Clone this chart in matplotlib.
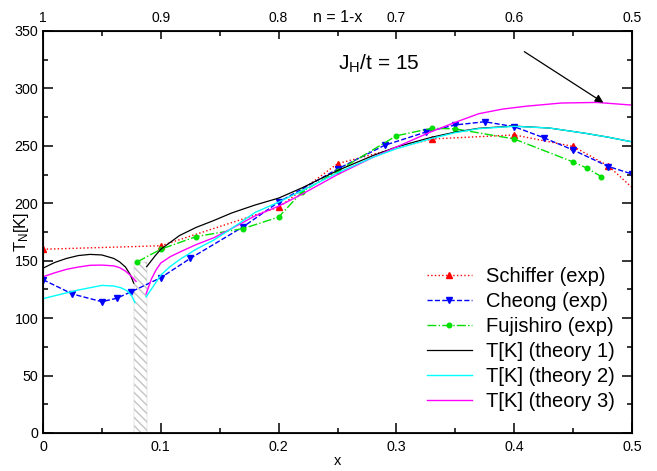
#
#  plot.py
#
#  Neel temperature T_N vs doping x: experiment and theory
#
################################################################

import numpy as np
import matplotlib
matplotlib.use('Agg')
import matplotlib.pyplot as plt
from matplotlib.patches import Rectangle
from matplotlib.ticker import MultipleLocator, FuncFormatter

plt.rcParams['font.family'] = ['Liberation Sans', 'DejaVu Sans']
plt.rcParams['mathtext.fontset'] = 'custom'
plt.rcParams['mathtext.rm'] = 'Liberation Sans'
plt.rcParams['mathtext.it'] = 'Liberation Sans:italic'
plt.rcParams['hatch.linewidth'] = 1.0

#  experimental data
schiffer_x = [0.0, 0.1, 0.2, 0.25, 0.33, 0.4, 0.45, 0.48, 0.52]
schiffer_y = [160, 163, 196.5, 234.5, 256, 259.5, 249.5, 232.5, 195]

cheong_x = [0.0, 0.025, 0.05, 0.0625, 0.075, 0.1, 0.125, 0.17, 0.2, 0.25,
            0.29, 0.325, 0.35, 0.375, 0.4, 0.425, 0.45, 0.48, 0.5]
cheong_y = [133.5, 121, 114.3, 117.3, 123, 135.2, 152, 179.6, 201, 229.8,
            250.5, 262, 268.2, 271, 266.7, 257.1, 246.4, 232, 225.5]

fuji_x = [0.08, 0.1, 0.13, 0.17, 0.2, 0.22, 0.25, 0.3, 0.33, 0.35, 0.4,
          0.45, 0.462, 0.474]
fuji_y = [149, 160, 171, 178, 188, 210, 228, 258.8, 265.3, 264.8, 256,
          236, 230.5, 223.2]

#  theory, low doping branch
th1a_x = [0.0, 0.01, 0.02, 0.03, 0.04, 0.05, 0.06, 0.065, 0.07, 0.074, 0.077]
th1a_y = [143.5, 148.5, 152, 154.5, 155.5, 155, 152, 149, 144.5, 138, 130.5]

th2a_x = [0.0, 0.01, 0.02, 0.03, 0.04, 0.05, 0.06, 0.066, 0.071, 0.075, 0.078]
th2a_y = [117, 119.5, 122, 124.5, 126.5, 128.5, 128, 126.5, 124, 120, 113.5]

th3a_x = [0.0, 0.01, 0.02, 0.03, 0.04, 0.05, 0.06, 0.065, 0.07, 0.075, 0.079]
th3a_y = [136, 139.5, 142.5, 144.5, 146, 146.2, 145.5, 144, 141, 136.5, 132]

#  theory, high doping branch
th1b_x = [0.088, 0.095, 0.1, 0.108, 0.116, 0.13, 0.145, 0.16, 0.18, 0.2,
          0.22, 0.25, 0.28, 0.3, 0.33, 0.35, 0.37, 0.4, 0.43, 0.46, 0.48, 0.5]
th1b_y = [144.8, 154, 160, 166, 172, 179, 185, 191.5, 198.5, 204.5,
          213.5, 228.5, 241.5, 249, 257.5, 262, 265.3, 267.2, 265.5, 261,
          257.5, 253.5]

th2b_x = [0.0875, 0.0935, 0.1, 0.108, 0.116, 0.13, 0.145, 0.16, 0.18, 0.2,
          0.22, 0.25, 0.28, 0.3, 0.33, 0.35, 0.37, 0.4, 0.43, 0.46, 0.48, 0.5]
th2b_y = [118.5, 127.5, 137.5, 145, 151, 160, 168, 178, 192, 201,
          211, 226.5, 240, 247.5, 256.5, 261.5, 265, 267, 265.5, 261,
          257.5, 253.5]

th3b_x = [0.0875, 0.092, 0.096, 0.1, 0.108, 0.116, 0.13, 0.145, 0.16, 0.18,
          0.2, 0.22, 0.25, 0.28, 0.3, 0.33, 0.35, 0.37, 0.39, 0.41, 0.44,
          0.47, 0.5]
th3b_y = [121, 134, 142, 148, 153.5, 157.5, 164, 170, 178, 189,
          197.5, 208, 225, 240, 249, 262.5, 270.5, 278, 282, 284.5, 287.3,
          287.8, 285.5]

#  top axis, n = 1 - x
top_ticks = [0.0, 0.1, 0.2, 0.3, 0.4, 0.5]
top_labels = ['1', '0.9', '0.8', '0.7', '0.6', '0.5']

fig = plt.figure(figsize=(6.57, 4.71), dpi=100)
ax = fig.add_axes([43/657, 38/471, 589/657, 402/471])

#  forbidden region
ax.add_patch(Rectangle((0.0775, 0), 0.011, 149, fill=False, hatch='\\\\\\\\',
                       edgecolor='#c4c4c4', linewidth=0.3, zorder=1))

ax.plot(schiffer_x, schiffer_y, ':', color='red', marker='^', ms=4,
        lw=1.0, label='Schiffer (exp)')
ax.plot(cheong_x, cheong_y, '--', color='blue', marker='v', ms=4,
        lw=1.0, label='Cheong (exp)')
ax.plot(fuji_x, fuji_y, '-.', color='#00e000', marker='o', ms=3.3,
        lw=1.0, label='Fujishiro (exp)')

ax.plot(th1a_x, th1a_y, '-', color='black', lw=0.9, label='T[K] (theory 1)')
ax.plot(th2a_x, th2a_y, '-', color='cyan', lw=1.0, label='T[K] (theory 2)')
ax.plot(th3a_x, th3a_y, '-', color='magenta', lw=1.0, label='T[K] (theory 3)')
ax.plot(th1b_x, th1b_y, '-', color='black', lw=0.9)
ax.plot(th3b_x, th3b_y, '-', color='magenta', lw=1.0)
ax.plot(th2b_x, th2b_y, '-', color='cyan', lw=1.0)

ax.set_xlim(0, 0.5)
ax.set_ylim(0, 350)
ax.xaxis.set_major_locator(MultipleLocator(0.1))
ax.xaxis.set_minor_locator(MultipleLocator(0.05))
ax.yaxis.set_major_locator(MultipleLocator(50))
ax.yaxis.set_minor_locator(MultipleLocator(25))
ax.xaxis.set_major_formatter(FuncFormatter(lambda v, p: '%g' % round(v, 3)))
ax.tick_params(which='both', direction='in', right=True, labelsize=10.3)
ax.tick_params(which='major', length=7, width=1.1)
ax.tick_params(which='minor', length=3.5, width=1.1)
ax.tick_params(axis='x', pad=5)
for s in ax.spines.values():
    s.set_linewidth(1.3)

ax.set_xlabel('x', fontsize=10.5, labelpad=0)
ax.set_ylabel(r'T$_\mathrm{N}$[K]', fontsize=12)
ax.yaxis.set_label_coords(-0.021, 0.5)

#  top axis
ax2 = ax.twiny()
ax2.set_xlim(0, 0.5)
ax2.set_xticks(top_ticks)
ax2.set_xticklabels(top_labels)
ax2.xaxis.set_minor_locator(MultipleLocator(0.05))
ax2.tick_params(which='both', direction='in', labelsize=10, pad=4)
ax2.tick_params(which='major', length=6, width=1.1)
ax2.tick_params(which='minor', length=3.5, width=1.1)
ax2.text(0.25, 1.0 + 5.5/402, 'n = 1-x', transform=ax2.get_xaxis_transform(),
         ha='center', va='bottom', fontsize=11.5)

ax.text(0.25, 316, r'J$_\mathrm{H}$/t = 15', fontsize=15, ha='left',
        va='baseline')
ax.annotate('', xy=(0.4757, 287.6), xytext=(0.4086, 332),
            arrowprops=dict(arrowstyle='-|>', color='black', lw=0.9,
                            mutation_scale=12, shrinkA=0, shrinkB=0))

ax.legend(loc='lower right', bbox_to_anchor=(0.985, 0.035), frameon=False,
          fontsize=14.5, numpoints=1, handlelength=2.25, labelspacing=0.3,
          handletextpad=0.7, borderaxespad=0)

plt.savefig('out.png', dpi=100)
